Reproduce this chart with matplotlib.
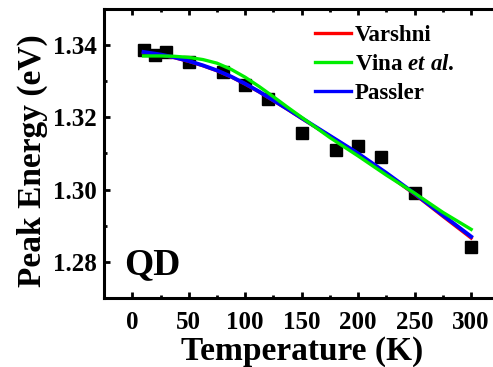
import matplotlib
matplotlib.use("Agg")
import matplotlib.pyplot as plt
from matplotlib.ticker import MultipleLocator, FormatStrFormatter

plt.rcParams["font.family"] = "Liberation Serif"
plt.rcParams["font.weight"] = "bold"
plt.rcParams["mathtext.fontset"] = "custom"
plt.rcParams["mathtext.rm"] = "Liberation Serif:bold"
plt.rcParams["mathtext.it"] = "Liberation Serif:italic:bold"

# measured peak energies
temp = [10, 20, 30, 50, 80, 100, 120, 150, 180, 200, 220, 250, 300]
energy = [1.3386, 1.3372, 1.3380, 1.3354, 1.3326, 1.3289, 1.3250,
          1.3158, 1.3109, 1.3121, 1.3089, 1.2991, 1.2840]

# fit curves
fit_t = [10, 25, 37.5, 50, 62.5, 75, 87.5, 100, 112.5, 125, 137.5, 150,
         175, 200, 225, 250, 275, 300]
varshni = [1.3380, 1.3373, 1.3365, 1.3355, 1.3343, 1.3329, 1.3312, 1.3292,
           1.3270, 1.3246, 1.3222, 1.3197, 1.3148, 1.3099, 1.3044, 1.2987,
           1.2926, 1.2866]
vina = [1.3370, 1.3370, 1.3369, 1.3366, 1.3360, 1.3350, 1.3333, 1.3311,
        1.3285, 1.3257, 1.3228, 1.3200, 1.3144, 1.3093, 1.3040, 1.2990,
        1.2937, 1.2890]
passler = [1.3381, 1.3374, 1.3366, 1.3356, 1.3344, 1.3330, 1.3313, 1.3293,
           1.3271, 1.3247, 1.3223, 1.3198, 1.3149, 1.3100, 1.3046, 1.2989,
           1.2929, 1.2870]

fig = plt.figure(figsize=(4.93, 3.67), dpi=100)
ax = fig.add_axes([0.211, 0.188, 0.802, 0.7875])

ax.plot(temp, energy, "s", color="black", markersize=8.5, zorder=2)
ax.plot(fit_t, varshni, color="red", lw=2.4, label="Varshni", zorder=3)
ax.plot(fit_t, vina, color="#00ee00", lw=2.4, label="Vina $\\mathit{et\\ al.}$", zorder=5)
ax.plot(fit_t, passler, color="blue", lw=2.8, label="Passler", zorder=4)

ax.set_xlim(-25, 325)
ax.set_ylim(1.27, 1.35)
ax.xaxis.set_major_locator(MultipleLocator(50))
ax.xaxis.set_minor_locator(MultipleLocator(25))
ax.yaxis.set_major_locator(MultipleLocator(0.02))
ax.yaxis.set_minor_locator(MultipleLocator(0.01))
ax.yaxis.set_major_formatter(FormatStrFormatter("%.2f"))

for s in ax.spines.values():
    s.set_linewidth(2.2)
ax.tick_params(which="both", direction="in", top=True, right=True, width=2.0)
ax.tick_params(which="major", length=4.5, labelsize=18, pad=9)
ax.tick_params(axis="y", which="major", pad=5.5)
ax.tick_params(which="minor", length=2.5)

ax.set_xlabel("Temperature (K)", fontsize=24, fontweight="bold", labelpad=2)
ax.set_ylabel("Peak Energy (eV)", fontsize=24, fontweight="bold")
ax.yaxis.set_label_coords(-0.142, 0.474)

ax.text(-7, 1.2765, "QD", fontsize=27, fontweight="bold")

leg = ax.legend(loc="upper left", bbox_to_anchor=(0.492, 1.0), frameon=False,
                fontsize=16.5, handlelength=1.6, handletextpad=0.15,
                labelspacing=0.35, borderaxespad=0.3)
for line in leg.get_lines():
    line.set_linewidth(2.4)

fig.savefig("out.png", dpi=100)
